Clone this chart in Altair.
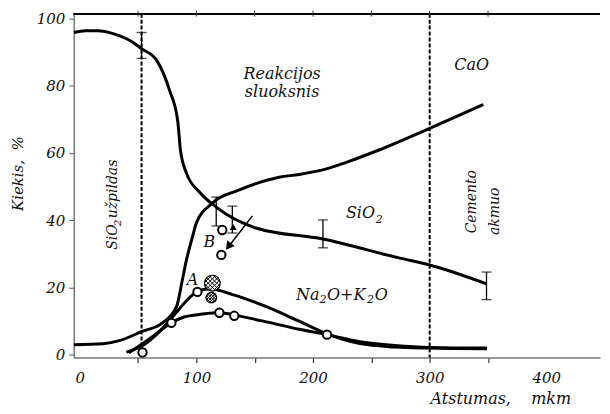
import altair as alt
import pandas as pd
import numpy as np

FONT = "DejaVu Serif"

# ---- data ----
sio2_x = [-5, 5, 15, 30, 45, 53, 66, 77, 84, 86.3, 91.5, 102.6, 117, 151, 208.5, 273.5, 300, 348.7]
sio2_y = [95.8, 96.3, 96.3, 95.3, 93.0, 91.0, 87.5, 78.6, 69.5, 61.0, 54.0, 48.4, 43.9, 37.7, 34.4, 28.8, 26.7, 21.1]

cao_x = [-5, 20, 34, 53, 71, 83, 88, 91.5, 96.6, 100, 113.7, 136.8, 171, 188, 213.7, 230.8, 256, 300, 346]
cao_y = [3.0, 3.3, 4.2, 6.9, 9.5, 14.3, 22.3, 28.2, 35.0, 39.2, 45.1, 49.0, 52.8, 53.6, 55.5, 57.5, 60.8, 67.3, 74.4]

naA_x = [40, 55, 70, 85, 95, 101, 111, 131, 160, 188, 212, 239, 270, 300, 349]
naA_y = [0.8, 3.0, 7.5, 13.5, 17.3, 18.8, 19.6, 17.9, 14.3, 10.0, 6.2, 3.4, 2.3, 2.0, 1.8]

naL_x = [42, 60, 78.6, 90, 102.6, 119.7, 132.5, 160, 188, 212, 239, 270, 300, 349]
naL_y = [0.6, 4.8, 9.5, 11.3, 12.0, 12.6, 11.8, 9.8, 7.6, 6.0, 4.0, 2.8, 2.2, 2.0]

circ_x = [53.8, 78.6, 100.9, 119.7, 132.5, 212, 122.2, 121.4]
circ_y = [0.7, 9.5, 18.7, 12.5, 11.6, 6.0, 37.1, 29.7]

hatch_x = [113.7, 112.8]
hatch_y = [21.3, 17.0]
hatch_size = [250, 115]

err_x = [53, 117, 130.8, 208.5, 348.7]
err_lo = [88.1, 38.3, 36.2, 31.8, 16.4]
err_hi = [95.8, 46.9, 44.2, 40.1, 24.6]

zones = [53, 300]
top_ticks = [50, 100, 150, 200, 250, 300, 350]

tri_x = [131.6]
tri_y = [38.0]

arrow_x = [148.0]
arrow_y = [41.3]
arrow_x2 = [129.0]
arrow_y2 = [32.8]
head_x = [127.5]
head_y = [32.2]

x_ticks = [0, 50, 100, 150, 200, 250, 300, 350, 400]
y_ticks = [0, 20, 40, 60, 80, 100]

# ---- tables ----
lines = pd.concat([
    pd.DataFrame({"x": sio2_x, "y": sio2_y, "s": "SiO2"}),
    pd.DataFrame({"x": cao_x, "y": cao_y, "s": "CaO"}),
    pd.DataFrame({"x": naA_x, "y": naA_y, "s": "NaA"}),
    pd.DataFrame({"x": naL_x, "y": naL_y, "s": "NaL"}),
])
circles = pd.DataFrame({"x": circ_x, "y": circ_y})
hatch = pd.DataFrame({"x": hatch_x, "y": hatch_y, "size": hatch_size})
errs = pd.DataFrame({"x": err_x, "lo": err_lo, "hi": err_hi})
zone_df = pd.DataFrame({"x": zones})
top_df = pd.DataFrame({"x": top_ticks})
tri = pd.DataFrame({"x": tri_x, "y": tri_y})
arrow = pd.DataFrame({"x": arrow_x, "y": arrow_y, "x2": arrow_x2, "y2": arrow_y2})
head = pd.DataFrame({"x": head_x, "y": head_y})

# hatch symbol path (style only)
segs = []
for c in [-1.08, -0.54, 0.0, 0.54, 1.08]:
    r = np.sqrt(2 - c * c)
    xa, xb = (c - r) / 2, (c + r) / 2
    segs.append(f"M{xa:.3f},{c - xa:.3f}L{xb:.3f},{c - xb:.3f}")
    segs.append(f"M{xa:.3f},{xa - c:.3f}L{xb:.3f},{xb - c:.3f}")
hatch_path = "".join(segs)

xs = alt.Scale(domain=[-5.1, 446], nice=False, zero=False)
ys = alt.Scale(domain=[-0.8, 101.4], nice=False, zero=False)

x_axis = alt.Axis(
    values=x_ticks, labelExpr="datum.value % 100 === 0 ? datum.label : ''",
    tickColor={"condition": {"test": "datum.value === 0 || datum.value === 400", "value": "rgba(0,0,0,0)"}, "value": "#333"},
    grid=False, domainColor="#777", domainWidth=1.5, tickSize=5, tickWidth=1.2,
    labelFont=FONT, labelFontStyle="italic", labelFontSize=15, labelColor="#111", labelPadding=8,
    title="Atstumas,\u00a0\u00a0\u00a0\u00a0mkm", titleFont=FONT, titleFontStyle="italic", titleFontWeight="normal",
    titleFontSize=16, titleColor="#111", titleX=428, titleY=41, titleAlign="center", titleBaseline="middle",
)
y_axis = alt.Axis(
    values=y_ticks, grid=False, domainColor="#777", domainWidth=1.5, tickSize=5, tickColor="#555",
    labelFont=FONT, labelFontStyle="italic", labelFontSize=15, labelColor="#111", labelPadding=4,
    title="Kiekis,\u00a0\u00a0%", titleFont=FONT, titleFontStyle="italic", titleFontWeight="normal",
    titleFontSize=15, titleColor="#111", titleX=-56, titleY=160, titleAngle=270,
    titleAlign="center", titleBaseline="middle",
)


def X(field="x"):
    return alt.X(f"{field}:Q", scale=xs)


def Y(field="y"):
    return alt.Y(f"{field}:Q", scale=ys)


line_layer = alt.Chart(lines).mark_line(color="black", strokeWidth=3, interpolate="monotone").encode(
    x=alt.X("x:Q", scale=xs, axis=x_axis),
    y=alt.Y("y:Q", scale=ys, axis=y_axis),
    detail="s:N",
)

zone_layer = alt.Chart(zone_df).mark_rule(color="black", strokeWidth=2, strokeDash=[4, 2]).encode(x=X())

top_line = alt.Chart(top_df).mark_rule(color="black", strokeWidth=1.5).encode(
    x=alt.value(0), x2=alt.value(528), y=alt.value(0))
top_tick = alt.Chart(top_df).mark_rule(color="#333", strokeWidth=1).encode(
    x=X(), y=alt.value(-3), y2=alt.value(3))

err_rule = alt.Chart(errs).mark_rule(color="black", strokeWidth=1.3).encode(
    x=X(), y=Y("lo"), y2="hi:Q")
cap_lo = alt.Chart(errs).mark_tick(color="black", orient="horizontal", size=10, thickness=1.3).encode(
    x=X(), y=Y("lo"))
cap_hi = alt.Chart(errs).mark_tick(color="black", orient="horizontal", size=10, thickness=1.3).encode(
    x=X(), y=Y("hi"))

arrow_line = alt.Chart(arrow).mark_rule(color="black", strokeWidth=1.5).encode(
    x=X(), y=Y(), x2="x2:Q", y2="y2:Q")
arrow_head = alt.Chart(head).mark_point(shape="triangle-up", filled=True, color="black", size=90, angle=217, opacity=1).encode(
    x=X(), y=Y())
tri_layer = alt.Chart(tri).mark_point(shape="triangle-up", filled=True, color="black", size=50, opacity=1).encode(
    x=X(), y=Y())

circ_layer = alt.Chart(circles).mark_point(shape="circle", filled=True, fill="white", stroke="black",
                                           strokeWidth=2, size=70, opacity=1).encode(x=X(), y=Y())

hatch_bg = alt.Chart(hatch).mark_point(shape="circle", filled=True, fill="white", stroke="black",
                                       strokeWidth=1.2, opacity=1).encode(
    x=X(), y=Y(), size=alt.Size("size:Q", scale=None, legend=None))
hatch_fg = alt.Chart(hatch).mark_point(shape=hatch_path, filled=False, stroke="black",
                                       strokeWidth=1, opacity=1).encode(
    x=X(), y=Y(), size=alt.Size("size:Q", scale=None, legend=None))


# ---- annotations ----
def txt(df, size=16, angle=0, align="center", baseline="middle"):
    kw = dict(font=FONT, fontStyle="italic", fontSize=size, color="#111", align=align, baseline=baseline)
    if angle:
        kw["angle"] = angle
    return alt.Chart(df).mark_text(**kw).encode(x=X(), y=Y(), text="t:N")


lab_main = pd.DataFrame({
    "x": [173.5, 173.5, 335.9, 96.6, 111.1],
    "y": [83.6, 78.0, 86.0, 22.3, 33.5],
    "t": ["Reakcijos", "sluoksnis", "CaO", "A", "B"],
})
lab_left = pd.DataFrame({
    "x": [228.2, 185.5, 212.0, 253.0],
    "y": [42.1, 17.8, 17.8, 17.8],
    "t": ["SiO", "Na", "O+K", "O"],
})
lab_sub = pd.DataFrame({
    "x": [253.8, 205.5, 246.2],
    "y": [40.0, 16.4, 16.4],
    "t": ["2", "2", "2"],
})
lab_rot = pd.DataFrame({
    "x": [28.2, 28.2, 335.9, 356.4],
    "y": [31.2, 40.6, 36.1, 35.6],
    "t": ["SiO", "užpildas", "Cemento", "akmuo"],
})
lab_rot_sub = pd.DataFrame({"x": [33.0], "y": [38.3], "t": ["2"]})

t1 = txt(lab_main)
t2 = txt(lab_left, align="left")
t3 = txt(lab_sub, size=11, align="left")
t4 = txt(lab_rot, size=14, angle=270, align="left")
t5 = txt(lab_rot_sub, size=10, angle=270, align="left")

chart = alt.layer(
    line_layer, zone_layer, top_line, top_tick, err_rule, cap_lo, cap_hi, arrow_line, arrow_head, tri_layer,
    hatch_bg, hatch_fg, circ_layer, t1, t2, t3, t4, t5,
).properties(
    width=528, height=345,
    autosize=alt.AutoSizeParams(type="none"),
    padding={"left": 66, "top": 5, "right": 2, "bottom": 54},
    background="white",
).configure_view(stroke=None)

chart.save("out.html", embed_options={"renderer": "svg", "actions": False})
